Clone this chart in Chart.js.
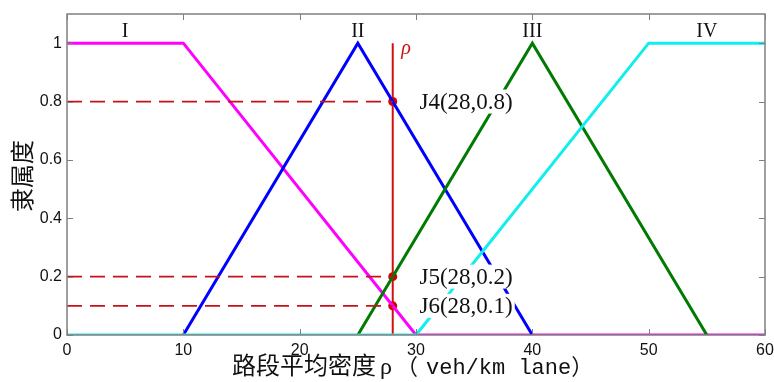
<!DOCTYPE html>
<html><head><meta charset="utf-8">
<script src="https://cdn.jsdelivr.net/npm/chart.js@4"></script>
<style>html,body{margin:0;padding:0;background:#fff}#wrap{width:774px;height:382px}</style>
</head><body><div id="wrap"><canvas id="c" width="774" height="382"></canvas></div>
<script>
// Membership functions (density x, membership y)
const xI = [0, 10, 30, 60];      const yI = [1, 1, 0, 0];
const xII = [10, 25, 40];        const yII = [0, 1, 0];
const xIII = [25, 40, 55];       const yIII = [0, 1, 0];
const xIV = [0, 30, 50, 60];     const yIV = [0, 0, 1, 1];
const rho = 28;
const pointY = [0.8, 0.2, 0.1];
const pointLabels = ['J4(28,0.8)', 'J5(28,0.2)', 'J6(28,0.1)'];
const regionLabels = ['I', 'II', 'III', 'IV'];
const regionX = [5, 25, 40, 55];
const xTicks = [0, 10, 20, 30, 40, 50, 60];
const yTicks = [0, 0.2, 0.4, 0.6, 0.8, 1];
const xTitleParts = ['路段平均密度', 'ρ', '（', 'veh/km lane', '）'];
const yTitle = '隶属度';

const pts = (xs, ys) => xs.map((x, i) => ({x, y: ys[i]}));
const lineDs = (data, color, w) => ({data, borderColor: color, backgroundColor: color, borderWidth: w, pointRadius: 0, showLine: true, tension: 0, fill: false});

const datasets = [];
pointY.forEach(v => {
  datasets.push(Object.assign(lineDs(pts([0, rho], [v, v]), '#c8101a', 1.8), {borderDash: [15, 8]}));
});
datasets.push(lineDs(pts(xIV, yIV), '#10eeee', 3));
datasets.push(lineDs(pts(xIII, yIII), '#007a00', 3));
datasets.push(lineDs(pts(xII, yII), '#0000ff', 3));
datasets.push(lineDs(pts(xI, yI), '#ff00ff', 3));
datasets.push(lineDs(pts([rho, rho], [0, 1]), '#d01010', 2));
datasets.push({data: pointY.map(v => ({x: rho, y: v})), showLine: false, pointRadius: 4.5, pointBackgroundColor: '#d00000', pointBorderColor: '#d00000', borderWidth: 0});

const deco = {
  id: 'deco',
  afterDatasetsDraw(chart) {
    const ctx = chart.ctx, xs = chart.scales.x, ys = chart.scales.y, a = chart.chartArea;
    ctx.save();
    // point labels with white background
    ctx.font = '23px "Liberation Serif", "Times New Roman", serif';
    ctx.textBaseline = 'middle'; ctx.textAlign = 'left';
    pointY.forEach((v, i) => {
      const px = xs.getPixelForValue(30.3), py = ys.getPixelForValue(v);
      const w = ctx.measureText(pointLabels[i]).width;
      ctx.fillStyle = '#fff'; ctx.fillRect(px - 2, py - 12, w + 4, 24);
      ctx.fillStyle = '#111'; ctx.fillText(pointLabels[i], px, py + 1);
    });
    // region labels
    ctx.font = '20px "Liberation Serif", "Times New Roman", serif';
    ctx.textAlign = 'center';
    regionLabels.forEach((t, i) => {
      ctx.fillStyle = '#111';
      ctx.fillText(t, xs.getPixelForValue(regionX[i]), ys.getPixelForValue(1.04));
    });
    // rho
    ctx.font = 'italic 20px "Liberation Serif", serif';
    ctx.fillStyle = '#d01010';
    ctx.fillText('ρ', xs.getPixelForValue(29.15), ys.getPixelForValue(0.98));
    // frame
    ctx.strokeStyle = '#808080'; ctx.lineWidth = 1.5;
    ctx.strokeRect(a.left, a.top, a.right - a.left, a.bottom - a.top);
    // inward tick marks
    ctx.lineWidth = 1;
    xTicks.forEach(v => {
      const p = Math.round(xs.getPixelForValue(v)) + 0.5;
      ctx.beginPath(); ctx.moveTo(p, a.bottom); ctx.lineTo(p, a.bottom - 6);
      ctx.moveTo(p, a.top); ctx.lineTo(p, a.top + 6); ctx.stroke();
    });
    yTicks.forEach(v => {
      const p = Math.round(ys.getPixelForValue(v)) + 0.5;
      ctx.beginPath(); ctx.moveTo(a.left, p); ctx.lineTo(a.left + 6, p);
      ctx.moveTo(a.right, p); ctx.lineTo(a.right - 6, p); ctx.stroke();
    });
    // x axis title (drawn in segments: CJK, rho, parenthesised unit)
    ctx.fillStyle = '#111';
    ctx.textAlign = 'left'; ctx.textBaseline = 'alphabetic';
    const fonts = ['24px "Noto Sans CJK SC", sans-serif', '24px "Liberation Serif", serif',
                   '22px "Noto Sans CJK SC", sans-serif', '22px "Liberation Mono", monospace',
                   '22px "Noto Sans CJK SC", sans-serif'];
    const gaps = [4, 4, 8, 0, 0];
    let tx = 232;
    xTitleParts.forEach((t, i) => {
      ctx.font = fonts[i];
      ctx.fillText(t, tx, 374);
      tx += ctx.measureText(t).width + gaps[i];
    });
    // y axis title
    ctx.font = '24px "Noto Sans CJK SC", sans-serif';
    ctx.textAlign = 'center'; ctx.textBaseline = 'middle';
    ctx.translate(22, 176);
    ctx.rotate(-Math.PI / 2);
    ctx.fillText(yTitle, 0, 0);
    ctx.restore();
  }
};

new Chart(document.getElementById('c'), {
  type: 'scatter',
  data: {datasets},
  options: {
    responsive: false, animation: false, devicePixelRatio: 1,
    layout: {padding: {left: 0, right: 9, top: 14, bottom: 0}},
    plugins: {legend: {display: false}, tooltip: {enabled: false}},
    scales: {
      x: {
        type: 'linear', min: 0, max: 60,
        afterBuildTicks: s => { s.ticks = xTicks.map(v => ({value: v})); },
        afterFit: s => { s.height = 47; s.paddingLeft = 0; s.paddingRight = 0; },
        grid: {display: false, drawTicks: false},
        border: {display: false},
        ticks: {color: '#111', font: {family: '"Liberation Sans", Arial', size: 16}, padding: 6, maxRotation: 0}
      },
      y: {
        type: 'linear', min: 0, max: 1.1,
        afterBuildTicks: s => { s.ticks = yTicks.map(v => ({value: v})); },
        afterFit: s => { s.width = 67; s.paddingTop = 0; s.paddingBottom = 0; },
        grid: {display: false, drawTicks: false},
        border: {display: false},
        ticks: {color: '#111', font: {family: '"Liberation Sans", Arial', size: 16}, padding: 5,
                callback: v => String(v)}
      }
    }
  },
  plugins: [deco]
});
</script></body></html>
